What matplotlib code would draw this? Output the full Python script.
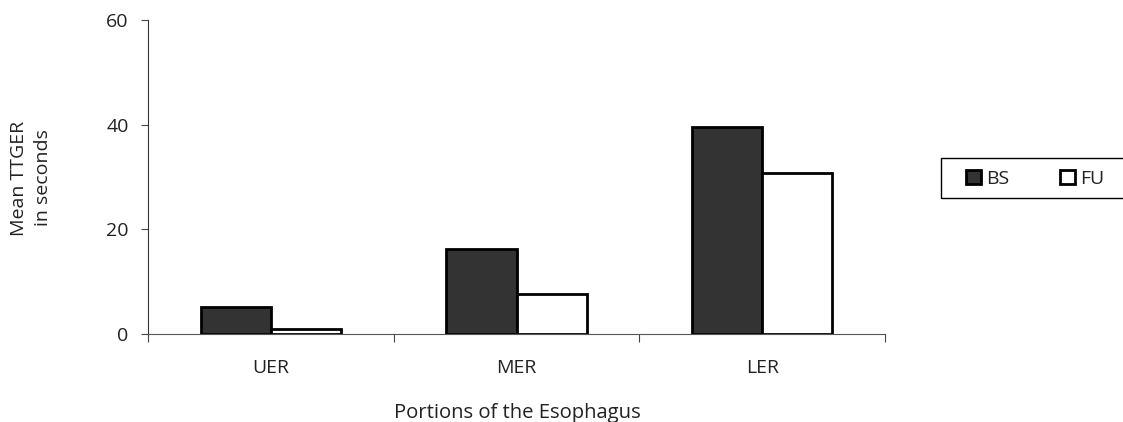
import matplotlib
matplotlib.use("Agg")
import matplotlib.pyplot as plt
from matplotlib.patches import Rectangle
import numpy as np

categories = ["UER", "MER", "LER"]
series_names = ["BS", "FU"]
bs_values = [5.2, 16.2, 39.5]
fu_values = [1.0, 7.7, 30.8]
y_ticks = [0, 20, 40, 60]

plt.rcParams['font.family'] = ['Open Sans', 'DejaVu Sans']
FS = 14
TC = "#222222"

fig = plt.figure(figsize=(11.23, 4.22), dpi=100)
W, H = 1123, 422
ax = fig.add_axes([148/W, 1 - 334/H, (885-148)/W, (334-20)/H])

x = np.arange(len(categories))
w = 0.285
ax.bar(x - w/2, bs_values, w, color="#333333", edgecolor="black", linewidth=2, label=series_names[0])
ax.bar(x + w/2, fu_values, w, color="white", edgecolor="black", linewidth=2, label=series_names[1])

ax.set_xlim(-0.5, len(categories) - 0.5)
ax.set_ylim(0, 60)
ax.set_yticks(y_ticks)
ax.set_yticklabels([str(v) for v in y_ticks], fontsize=FS, color=TC)
ax.set_xticks(np.arange(-0.5, len(categories), 1.0))
ax.set_xticklabels([])
ax.set_xticks(x, minor=True)
ax.set_xticklabels(categories, minor=True, fontsize=FS, color=TC)
ax.tick_params(axis="x", which="minor", length=0, pad=18)
ax.tick_params(axis="x", which="major", length=6, direction="out", color="#444444")
ax.tick_params(axis="y", length=5, direction="out", color="#444444", pad=9)

for s in ["top", "right"]:
    ax.spines[s].set_visible(False)
ax.spines["left"].set_color("#333333")
ax.spines["bottom"].set_color("#555555")

fig.text(31/W, 1 - 178/H, "Mean TTGER\nin seconds", rotation=90, ha="center", va="center",
         multialignment="center", fontsize=FS, color=TC, linespacing=1.45)
fig.text(517/W, 1 - 418/H, "Portions of the Esophagus", ha="center", va="baseline",
         fontsize=14.6, color=TC)

fig.patches.append(Rectangle((941/W, 1 - 198/H), (1126-941)/W, 40/H, transform=fig.transFigure,
                             fill=False, edgecolor="black", linewidth=1.0))

leg = fig.legend(loc="center left", bbox_to_anchor=(966/W, 1 - 179/H),
                 bbox_transform=fig.transFigure, ncol=2, fontsize=FS,
                 frameon=False, handlelength=0.75, handleheight=0.75,
                 handletextpad=0.3, borderpad=0, borderaxespad=0, columnspacing=2.6)
for t in leg.get_texts():
    t.set_color(TC)

fig.savefig("out.png", dpi=100)
